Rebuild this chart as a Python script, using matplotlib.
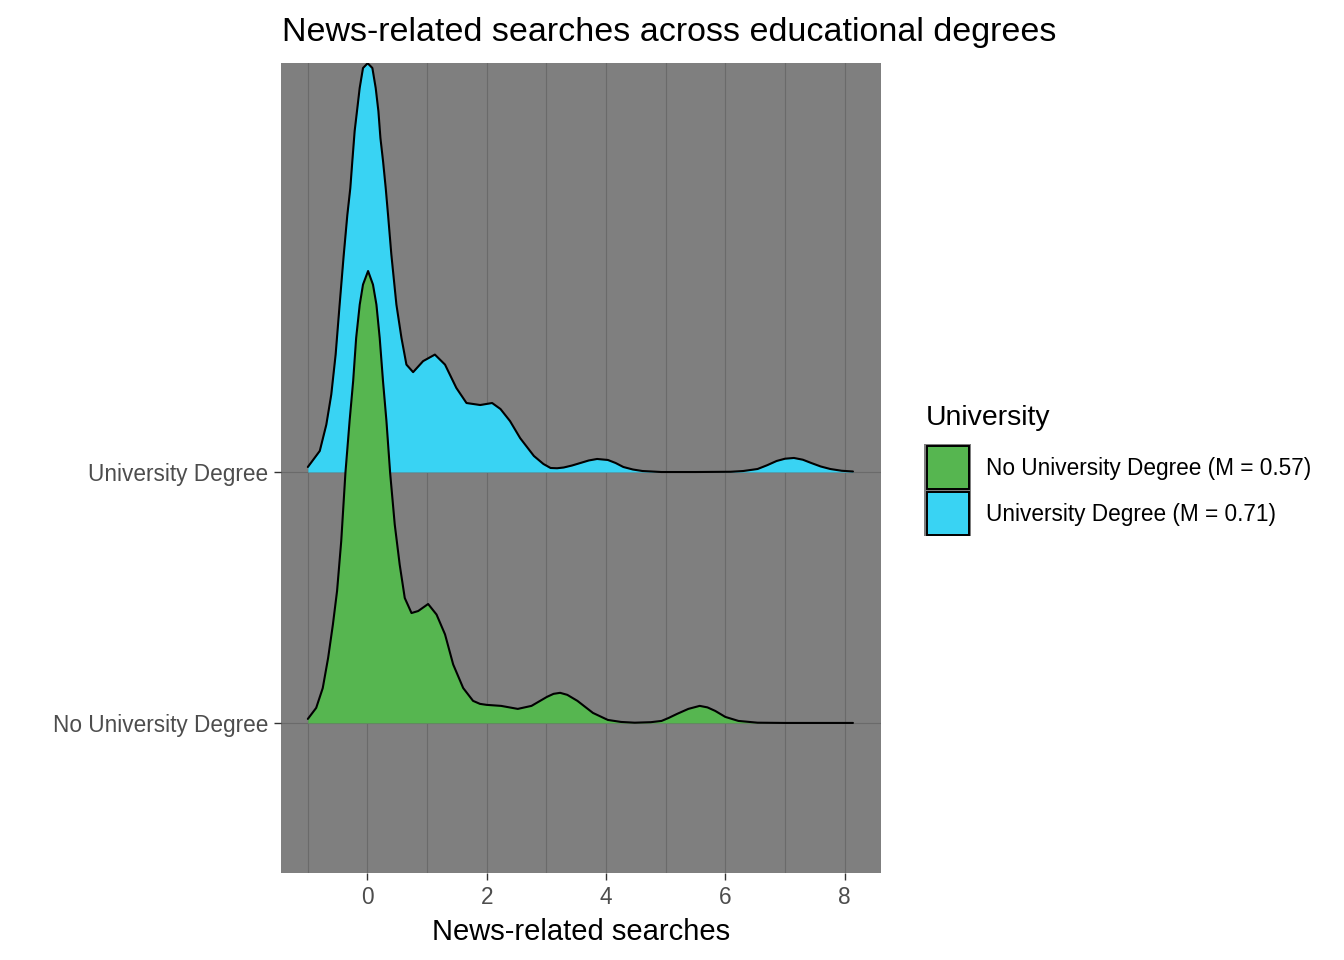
import matplotlib
matplotlib.use("Agg")
import matplotlib.pyplot as plt
from matplotlib.patches import Rectangle
import numpy as np

plt.rcParams['font.family'] = ['Liberation Sans', 'DejaVu Sans']

# ridge rows (bottom to top)
groups = ["No University Degree", "University Degree"]
legend_labels = ["No University Degree (M = 0.57)", "University Degree (M = 0.71)"]
fill_colors = ["#56B650", "#39D3F3"]

# scaled density heights (in units of row spacing)
no_uni_x = [-1.00, -0.86, -0.75, -0.66, -0.58, -0.51, -0.44, -0.37, -0.30, -0.24,
            -0.19, -0.13, -0.075, 0.01, 0.092, 0.15, 0.205, 0.26, 0.318, 0.38,
            0.457, 0.54, 0.625, 0.738, 0.85, 1.017, 1.158, 1.30, 1.437, 1.605,
            1.77, 1.886, 2.00, 2.24, 2.52, 2.75, 3.01, 3.12, 3.23, 3.35,
            3.52, 3.65, 3.78, 4.03, 4.25, 4.48, 4.75, 4.93, 5.05, 5.19,
            5.38, 5.57, 5.70, 5.83, 6.00, 6.22, 6.54, 7.00, 8.14]
no_uni_h = [0.016, 0.060, 0.139, 0.259, 0.392, 0.526, 0.725, 0.996, 1.203, 1.363,
            1.534, 1.667, 1.747, 1.801, 1.747, 1.667, 1.534, 1.363, 1.203, 0.996,
            0.791, 0.631, 0.498, 0.438, 0.446, 0.474, 0.432, 0.353, 0.233, 0.139,
            0.088, 0.076, 0.072, 0.068, 0.056, 0.068, 0.104, 0.116, 0.120, 0.112,
            0.088, 0.064, 0.040, 0.012, 0.004, 0.001, 0.003, 0.008, 0.020, 0.036,
            0.056, 0.068, 0.062, 0.048, 0.024, 0.008, 0.001, 0.000, 0.000]

uni_x = [-1.00, -0.80, -0.69, -0.607, -0.534, -0.467, -0.40, -0.338, -0.288, -0.254,
         -0.215, -0.176, -0.131, -0.075, 0.003, 0.082, 0.138, 0.183, 0.217, 0.261,
         0.306, 0.345, 0.40, 0.485, 0.57, 0.653, 0.765, 0.933, 1.13, 1.30,
         1.49, 1.66, 1.89, 2.09, 2.23, 2.39, 2.56, 2.79, 2.95, 3.07,
         3.18, 3.29, 3.43, 3.57, 3.71, 3.85, 4.03, 4.16, 4.29, 4.45,
         4.61, 4.93, 5.50, 6.09, 6.30, 6.54, 6.70, 6.86, 7.00, 7.15,
         7.30, 7.44, 7.60, 7.76, 7.95, 8.14]
uni_h = [0.020, 0.084, 0.189, 0.309, 0.468, 0.667, 0.860, 1.024, 1.131, 1.239,
         1.359, 1.438, 1.530, 1.610, 1.629, 1.610, 1.530, 1.438, 1.331, 1.239,
         1.131, 1.024, 0.867, 0.667, 0.534, 0.428, 0.398, 0.442, 0.468, 0.428,
         0.335, 0.275, 0.267, 0.275, 0.251, 0.203, 0.135, 0.064, 0.032, 0.016,
         0.015, 0.018, 0.026, 0.036, 0.046, 0.052, 0.048, 0.036, 0.020, 0.010,
         0.004, 0.000, 0.000, 0.001, 0.004, 0.012, 0.027, 0.044, 0.053, 0.056,
         0.049, 0.036, 0.022, 0.012, 0.005, 0.002]

x_ticks = [0, 2, 4, 6, 8]
x_minor = [-1, 1, 3, 5, 7]

W, H = 1344, 960
fig = plt.figure(figsize=(W / 100, H / 100), dpi=100)
ax = fig.add_axes([281 / W, 1 - 873 / H, 600 / W, 810 / H])
ax.set_facecolor("#7F7F7F")
for s in ax.spines.values():
    s.set_visible(False)

grid_col = "#6A6A6A"
for xv in x_ticks + x_minor:
    ax.axvline(xv, color=grid_col, lw=0.8, zorder=0)
for yv in range(1, len(groups) + 1):
    ax.axhline(yv, color=grid_col, lw=0.8, zorder=0)

# draw upper ridge first so lower ridge overlaps it
series = [(no_uni_x, no_uni_h), (uni_x, uni_h)]
for i in reversed(range(len(groups))):
    xs = np.array(series[i][0])
    hs = np.array(series[i][1])
    base = i + 1
    z = 2 + (len(groups) - i)
    ax.fill_between(xs, base, base + hs, color=fill_colors[i], lw=0, zorder=z)
    ax.plot(xs, base + hs, color="black", lw=1.5, zorder=z + 0.5,
            solid_joinstyle="round", solid_capstyle="round")

ax.set_xlim(-1.45, 8.61)
ax.set_ylim(0.402, 3.63)
ax.set_xticks(x_ticks)
ax.set_xticklabels([str(v) for v in x_ticks])
ax.set_yticks([1, 2])
ax.set_yticklabels(groups)
ax.tick_params(axis="both", colors="#333333", labelcolor="#4D4D4D",
               length=5, width=1, labelsize=16.3, pad=4)
ax.set_xlabel("News-related searches", fontsize=21, color="black", labelpad=7)

fig.text(282 / W, 1 - 33 / H, "News-related searches across educational degrees",
         fontsize=24.5, ha="left", va="center", color="black")

# legend
fig.text(926 / W, 1 - 418 / H, "University", fontsize=20.4, ha="left", va="center")
key_tops = [444, 490]
for i, lab in enumerate(legend_labels):
    top = key_tops[i]
    fig.add_artist(Rectangle((924 / W, 1 - (top + 46) / H), 47 / W, 46 / H,
                             transform=fig.transFigure, facecolor="#7F7F7F", lw=0))
    fig.add_artist(Rectangle((926.5 / W, 1 - (top + 44.5) / H), 42 / W, 43 / H,
                             transform=fig.transFigure, facecolor=fill_colors[i],
                             edgecolor="black", lw=1.4))
    fig.text(986 / W, 1 - (top + 25) / H, lab, fontsize=16.3, ha="left", va="center")

fig.savefig("out.png", dpi=100)
